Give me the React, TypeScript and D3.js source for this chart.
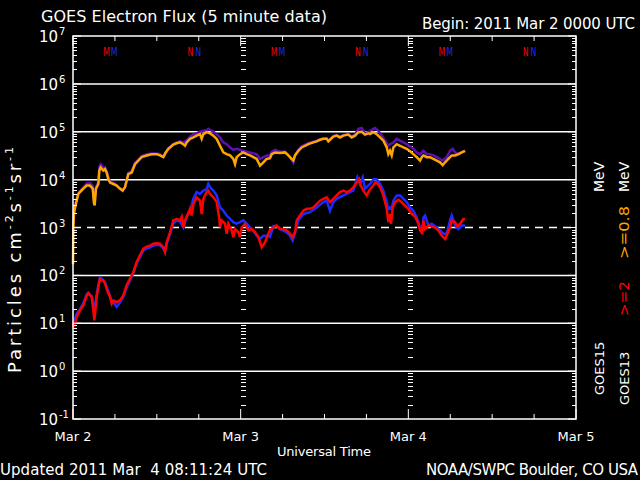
import * as d3 from 'd3';

// hours since 2011 Mar 2 00:00 UT, flux (particles cm-2 s-1 sr-1)
const G13_LOW: [number, number][] = [
  [0, 170], [0.05, 1000], [0.14, 1900], [0.29, 2600], [0.52, 3600], [0.76, 5000], [1.0, 5500],
  [1.48, 6500], [1.96, 7500], [2.43, 7500], [2.82, 6500], [3.0, 3200], [3.1, 2900], [3.29, 6500],
  [3.63, 8100], [3.77, 15500], [3.96, 18000], [4.15, 16600], [4.34, 15500], [4.58, 16600],
  [4.82, 14000], [5.06, 10200], [5.3, 8700], [5.77, 8100], [6.25, 7500], [6.73, 6500], [7.11, 5900],
  [7.44, 6900], [7.68, 9500], [7.92, 13000], [8.4, 14000], [8.87, 21000], [9.35, 25000],
  [9.83, 29500], [10.55, 32000], [11.26, 34000], [11.98, 34000], [12.45, 32000], [12.93, 29500],
  [13.27, 37000], [13.65, 44000], [13.89, 47000], [14.36, 54000], [14.84, 57500], [15.32, 60000],
  [15.79, 55000], [16.03, 51000], [16.27, 60000], [16.75, 71000], [17.23, 76000], [17.7, 83000],
  [18.18, 89000], [18.42, 71000], [18.66, 89000], [19.13, 98000], [19.61, 93000], [20.09, 83000],
  [20.57, 71000], [21.04, 51000], [21.52, 37000], [22.0, 34000], [22.48, 32000], [22.95, 27000],
  [23.19, 21000], [23.43, 29500], [23.91, 34000], [24.38, 37000], [24.86, 34000], [25.34, 32000],
  [25.82, 29500], [26.29, 27000], [26.77, 19500], [27.25, 23000], [27.72, 27000], [28.2, 28000],
  [28.44, 34000], [28.92, 37000], [29.63, 36000], [30.35, 37000], [30.82, 32000], [31.3, 27000],
  [31.54, 25000], [31.78, 32000], [32.26, 40000], [32.73, 47000], [33.21, 51000], [33.69, 55000],
  [34.4, 60000], [34.88, 63000], [35.36, 68000], [35.84, 71000], [36.31, 71000], [36.55, 63000],
  [36.79, 68000], [37.27, 79000], [37.74, 83000], [38.22, 76000], [38.7, 83000], [39.41, 87000],
  [39.89, 76000], [40.37, 83000], [40.85, 98000], [41.32, 100000], [41.8, 87000], [42.28, 93000],
  [42.52, 89000], [43.0, 98000], [43.47, 89000], [43.95, 76000], [44.43, 65000], [44.91, 47000],
  [45.14, 34000], [45.38, 40000], [45.62, 32000], [45.86, 47000], [46.34, 55000], [46.81, 51000],
  [47.29, 47000], [47.77, 44000], [48.25, 39000], [48.72, 34000], [49.2, 29500], [49.68, 25000],
  [49.92, 29500], [50.16, 32000], [50.63, 29500], [51.11, 29500], [51.59, 27000], [52.06, 25000],
  [52.54, 23000], [52.92, 20000], [53.26, 23000], [53.73, 27000], [54.21, 32000], [54.69, 32000],
  [55.17, 34000], [55.64, 37000], [56.12, 40000],
];

const G15_LOW: [number, number][] = [
  [0, 2000], [0.14, 2200], [0.29, 2800], [0.52, 4000], [0.76, 5200], [1.0, 5800], [1.48, 6800],
  [1.96, 8300], [2.43, 8500], [2.82, 7400], [3.0, 4000], [3.1, 3500], [3.29, 6800], [3.63, 8900],
  [3.77, 18000], [3.96, 21000], [4.15, 20000], [4.34, 16600], [4.58, 18000], [4.82, 15000],
  [5.06, 11000], [5.3, 9100], [5.77, 8500], [6.25, 7600], [6.73, 6300], [7.11, 5800], [7.44, 6900],
  [7.68, 10000], [7.92, 13800], [8.4, 14800], [8.87, 22000], [9.35, 26000], [9.83, 31000],
  [10.55, 34000], [11.26, 35000], [11.98, 35000], [12.45, 34000], [12.93, 30000], [13.27, 36000],
  [13.65, 45000], [13.89, 49000], [14.36, 55000], [14.84, 60000], [15.32, 63000], [15.79, 59000],
  [16.27, 66000], [16.75, 79000], [17.23, 89000], [17.7, 93000], [18.18, 100000], [18.66, 105000],
  [19.13, 107000], [19.37, 115000], [19.61, 110000], [20.09, 100000], [20.57, 89000], [21.04, 76000],
  [21.52, 60000], [22.0, 55000], [22.48, 47000], [22.95, 42000], [23.43, 44000], [23.91, 42000],
  [24.38, 40000], [25.34, 37000], [26.29, 34000], [26.77, 27000], [27.25, 29500], [27.72, 32000],
  [28.2, 32000], [28.44, 38000], [28.92, 42000], [29.63, 38000], [30.35, 38000], [30.82, 33000],
  [31.3, 26000], [31.54, 23000], [31.78, 32000], [32.26, 42000], [32.73, 49000], [33.21, 54000],
  [33.69, 57500], [34.4, 62000], [34.88, 65000], [35.36, 69000], [35.84, 72000], [36.31, 72000],
  [36.55, 65000], [36.79, 69000], [37.27, 81000], [37.74, 85000], [38.22, 79000], [38.7, 85000],
  [39.41, 89000], [39.89, 79000], [40.37, 87000], [40.85, 115000], [41.32, 120000], [41.8, 93000],
  [42.28, 98000], [42.52, 105000], [43.0, 115000], [43.24, 120000], [43.71, 105000], [44.19, 83000],
  [44.67, 65000], [45.14, 51000], [45.38, 55000], [45.86, 60000], [46.34, 71000], [46.81, 65000],
  [47.29, 60000], [47.77, 55000], [48.25, 49000], [48.72, 44000], [49.2, 37000], [49.68, 34000],
  [50.16, 40000], [50.63, 34000], [51.11, 34000], [51.59, 32000], [52.06, 29500], [52.54, 27000],
  [52.92, 25000], [53.5, 29500], [53.97, 40000], [54.35, 44000], [54.69, 37000], [55.17, 34000],
  [55.64, 37000], [56.12, 40000],
];

const G13_HIGH: [number, number][] = [
  [0, 10], [0.05, 8.3], [0.29, 10], [0.52, 13.5], [1.0, 18.6], [1.48, 23.7], [1.96, 38], [2.19, 42],
  [2.43, 38], [2.67, 35.5], [2.91, 18.6], [3.05, 11.5], [3.2, 18.6], [3.39, 35.5], [3.63, 57.5],
  [3.86, 85], [4.1, 79], [4.34, 79], [4.58, 68], [4.82, 52.5], [5.06, 42], [5.3, 35.5], [5.54, 25.7],
  [5.77, 30], [6.25, 27.5], [6.73, 30], [7.2, 38], [7.68, 62], [8.16, 85], [8.64, 117], [9.11, 190],
  [9.59, 263], [10.07, 363], [10.55, 398], [11.02, 417], [11.5, 457], [11.98, 468], [12.45, 457],
  [12.93, 389], [13.17, 309], [13.41, 490], [13.89, 794], [14.36, 1410], [14.84, 1510],
  [15.32, 1410], [15.56, 1660], [15.79, 1000], [16.03, 1410], [16.27, 1660], [16.75, 2450],
  [16.99, 1780], [17.23, 3090], [17.7, 4270], [18.18, 3630], [18.42, 1910], [18.66, 3980],
  [19.13, 5500], [19.37, 5890], [19.61, 5010], [20.09, 4270], [20.57, 3390], [20.95, 1510],
  [21.04, 1000], [21.28, 1410], [21.76, 1200], [22.0, 741], [22.24, 1200], [22.71, 871], [22.95, 631],
  [23.19, 933], [23.67, 794], [23.91, 631], [24.14, 1000], [24.62, 1200], [25.1, 871], [25.58, 933],
  [26.05, 794], [26.53, 631], [27.01, 389], [27.48, 490], [28.2, 891], [28.68, 1000], [29.15, 1100],
  [29.63, 933], [30.11, 933], [30.59, 871], [31.06, 741], [31.44, 631], [31.78, 794], [32.02, 1410],
  [32.49, 1780], [32.97, 2240], [33.45, 2450], [33.93, 2450], [34.4, 2630], [34.88, 3090],
  [35.36, 3630], [35.84, 3980], [36.31, 4270], [36.79, 3390], [37.27, 3980], [37.74, 4680],
  [38.22, 5500], [38.7, 5890], [39.18, 5500], [39.65, 5890], [40.13, 6920], [40.61, 8710],
  [40.94, 10200], [41.18, 7590], [41.56, 5890], [42.04, 4680], [42.52, 6310], [43.0, 7590],
  [43.24, 8710], [43.47, 8710], [43.95, 6920], [44.43, 4680], [44.91, 2450], [45.14, 1290],
  [45.29, 1910], [45.53, 1200], [45.77, 2630], [46.1, 3390], [46.58, 3800], [47.05, 3390],
  [47.53, 2880], [48.01, 2450], [48.49, 1910], [48.96, 1700], [49.44, 1200], [49.68, 871],
  [49.92, 794], [50.16, 1410], [50.39, 933], [50.87, 1100], [51.35, 1050], [51.83, 1000], [52.3, 871],
  [52.78, 676], [53.26, 575], [53.59, 741], [53.97, 1000], [54.21, 1410], [54.69, 1290], [55.02, 1050],
  [55.41, 1200], [55.88, 1510], [56.12, 1510],
];

const G15_HIGH: [number, number][] = [
  [0, 10.5], [0.29, 12.6], [0.52, 15.8], [1.0, 20], [1.48, 26.3], [1.96, 40], [2.19, 43.7], [2.43, 40],
  [2.67, 37], [2.91, 25], [3.05, 20], [3.2, 25], [3.39, 40], [3.63, 63], [3.86, 89], [4.1, 85],
  [4.34, 79], [4.58, 72], [4.82, 57.5], [5.06, 46], [5.3, 37], [5.54, 28], [5.77, 27.5], [6.25, 21.9],
  [6.73, 27], [7.2, 35.5], [7.68, 56], [8.16, 79], [8.64, 112], [9.11, 178], [9.59, 240], [10.07, 331],
  [10.55, 363], [11.02, 380], [11.5, 417], [11.98, 437], [12.45, 427], [12.93, 363], [13.17, 316],
  [13.41, 457], [13.89, 741], [14.36, 1200], [14.84, 1410], [15.32, 1320], [15.79, 1000],
  [16.27, 1660], [16.75, 2240], [17.23, 3980], [17.7, 5500], [18.18, 5010], [18.66, 5890],
  [19.13, 6310], [19.37, 8130], [19.61, 6920], [20.09, 5890], [20.57, 4680], [21.04, 2630],
  [21.52, 2240], [22.0, 1780], [22.48, 1510], [22.95, 1290], [23.43, 1200], [23.91, 1290],
  [24.38, 1410], [24.86, 1200], [25.34, 1000], [25.82, 871], [26.29, 676], [26.77, 575], [27.25, 676],
  [27.72, 676], [28.2, 631], [28.68, 1070], [29.15, 1070], [29.63, 933], [30.59, 794], [31.06, 676],
  [31.44, 537], [31.78, 794], [32.26, 1410], [32.97, 1910], [33.93, 2090], [34.88, 2630],
  [35.84, 3390], [36.31, 3630], [36.79, 2240], [37.27, 3390], [37.74, 3980], [38.7, 4680],
  [39.18, 5010], [39.65, 5500], [40.13, 5890], [40.7, 11200], [41.08, 8130], [41.47, 11200],
  [41.8, 6460], [42.28, 7590], [42.52, 8130], [43.0, 10200], [43.47, 10200], [43.95, 8130],
  [44.43, 5890], [44.91, 3390], [45.14, 2450], [45.38, 2630], [45.62, 2450], [45.86, 3630],
  [46.34, 4680], [46.81, 4680], [47.29, 3980], [47.77, 3390], [48.25, 2630], [48.72, 2240],
  [49.2, 1620], [49.68, 1000], [50.01, 724], [50.16, 1620], [50.39, 1780], [50.87, 1100],
  [51.35, 1200], [52.06, 1000], [52.54, 871], [53.02, 741], [53.5, 741], [53.97, 1410], [54.21, 1780],
  [54.69, 1100], [55.17, 933], [55.64, 1100], [56.12, 1100],
];

// local midnight (M) / noon (N) in hours UT
const G13_MIDNIGHT = [4.8, 28.8, 52.8];
const G13_NOON = [16.8, 40.8, 64.8];
const G15_MIDNIGHT = [5.9, 29.9, 53.9];
const G15_NOON = [17.9, 41.9, 65.9];

const DAY_LABELS = ['Mar 2', 'Mar 3', 'Mar 4', 'Mar 5'];
const DECADES = [-1, 0, 1, 2, 3, 4, 5, 6, 7];
const FONT = 'DejaVu Sans, sans-serif';

const W = 640;
const H = 480;
const PLOT = { left: 73, right: 576, top: 36, bottom: 419 };
const RED = '#ff0000';
const BLUE = '#1a2cff';

export default function App() {
  const x = d3.scaleLinear().domain([0, 72]).range([PLOT.left, PLOT.right]);
  const y = d3.scaleLog().domain([0.1, 1e7]).range([PLOT.bottom, PLOT.top]);

  const line = d3.line<[number, number]>()
    .x(d => x(d[0]))
    .y(d => y(d[1]));

  const minors: number[] = [];
  DECADES.slice(0, -1).forEach(e => {
    for (let k = 2; k <= 9; k++) minors.push(k * Math.pow(10, e));
  });
  const hourTicks = d3.range(0, 73, 6);
  const dayLines = [24, 48];

  const series = [
    { data: G15_LOW, colour: '#5c10b4' },
    { data: G13_LOW, colour: '#ffa500' },
    { data: G15_HIGH, colour: BLUE },
    { data: G13_HIGH, colour: RED },
  ];

  const markers = [
    ...G13_MIDNIGHT.map(h => ({ h, ch: 'M', c: RED })),
    ...G15_MIDNIGHT.map(h => ({ h, ch: 'M', c: BLUE })),
    ...G13_NOON.map(h => ({ h, ch: 'N', c: RED })),
    ...G15_NOON.map(h => ({ h, ch: 'N', c: BLUE })),
  ];

  return (
    <svg width={W} height={H} style={{ position: 'absolute', left: 0, top: 0, background: '#000' }}
      fontFamily={FONT}>
      <rect x={0} y={0} width={W} height={H} fill="#000" />

      {/* grid lines at decades */}
      {DECADES.filter(e => e > -1 && e < 7).map(e => (
        <line key={'g' + e} x1={PLOT.left} x2={PLOT.right} y1={y(Math.pow(10, e))} y2={y(Math.pow(10, e))}
          stroke="#fff" strokeWidth={1.5} strokeDasharray={e === 3 ? '8,6' : undefined} />
      ))}

      {/* day boundary ladders */}
      {dayLines.map(h => minors.map(v => (
        <line key={`d${h}-${v}`} x1={Math.round(x(h))} x2={Math.round(x(h)) + 5} y1={Math.round(y(v)) + 0.5}
          y2={Math.round(y(v)) + 0.5} stroke="#fff" strokeWidth={1} />
      )))}

      {/* data */}
      {series.map((s, i) => (
        <path key={i} d={line(s.data) ?? ''} fill="none" stroke={s.colour} strokeWidth={2.5}
          strokeLinejoin="miter" />
      ))}

      {/* frame */}
      <rect x={PLOT.left} y={PLOT.top} width={PLOT.right - PLOT.left} height={PLOT.bottom - PLOT.top}
        fill="none" stroke="#fff" strokeWidth={1.5} />

      {/* y ticks left and right */}
      {DECADES.map(e => {
        const yy = y(Math.pow(10, e));
        return (
          <g key={'yt' + e}>
            <line x1={PLOT.left} x2={PLOT.left + 8} y1={yy} y2={yy} stroke="#fff" />
            <line x1={PLOT.right} x2={PLOT.right - 8} y1={yy} y2={yy} stroke="#fff" />
            <text x={58} y={yy + 6} textAnchor="end" fill="#fff" fontSize={15}>10</text>
            <text x={59} y={yy - 1} fill="#fff" fontSize={10}>{e}</text>
          </g>
        );
      })}
      {minors.map(v => (
        <g key={'ym' + v}>
          <line x1={PLOT.left} x2={PLOT.left + 4} y1={Math.round(y(v)) + 0.5} y2={Math.round(y(v)) + 0.5} stroke="#fff" />
          <line x1={PLOT.right} x2={PLOT.right - 4} y1={Math.round(y(v)) + 0.5} y2={Math.round(y(v)) + 0.5} stroke="#fff" />
        </g>
      ))}

      {/* x ticks top and bottom */}
      {hourTicks.map(h => {
        const len = h % 24 === 0 ? 10 : 5;
        return (
          <g key={'xt' + h}>
            <line x1={x(h)} x2={x(h)} y1={PLOT.top} y2={PLOT.top + len} stroke="#fff" />
            <line x1={x(h)} x2={x(h)} y1={PLOT.bottom} y2={PLOT.bottom - len} stroke="#fff" />
          </g>
        );
      })}

      {/* midnight / noon markers, narrowed so the red and blue letters sit side by side */}
      {markers.map(m => (
        <text key={m.ch + m.c + m.h} transform={`translate(${x(m.h)},56) scale(0.6,1)`}
          textAnchor="middle" fill={m.c} fontSize={13}>{m.ch}</text>
      ))}

      {/* day labels */}
      {DAY_LABELS.map((d, i) => (
        <text key={d} x={x(i * 24)} y={441} textAnchor="middle" fill="#fff" fontSize={13}>{d}</text>
      ))}
      <text x={324} y={456} textAnchor="middle" fill="#fff" fontSize={13} textLength={94}>Universal Time</text>

      {/* titles */}
      <text x={41} y={21.5} fill="#fff" fontSize={16} textLength={286}>GOES Electron Flux (5 minute data)</text>
      <text x={422} y={29} fill="#fff" fontSize={15} textLength={213}>Begin: 2011 Mar 2 0000 UTC</text>
      <text x={0} y={475} fill="#fff" fontSize={15} textLength={267} style={{ whiteSpace: 'pre' }}>Updated 2011 Mar  4 08:11:24 UTC</text>
      <text x={638} y={475} textAnchor="end" fill="#fff" fontSize={15} textLength={212}>NOAA/SWPC Boulder, CO USA</text>

      {/* y axis label */}
      <text transform="translate(21,260) rotate(-90)" textAnchor="middle" fill="#fff" fontSize={18} textLength={226}>
        Particles cm<tspan fontSize={11} dy={-8}>-2</tspan><tspan dy={8}>s</tspan><tspan fontSize={11} dy={-8}>-1</tspan><tspan dy={8}>sr</tspan><tspan fontSize={11} dy={-8}>-1</tspan>
      </text>

      {/* right legend */}
      <text transform="translate(604,395) rotate(-90)" fill="#fff" fontSize={13}>GOES15</text>
      <text transform="translate(604,192) rotate(-90)" fill="#fff" fontSize={14}>MeV</text>
      <text transform="translate(629,405) rotate(-90)" fill="#fff" fontSize={13}>GOES13</text>
      <text transform="translate(629,316) rotate(-90)" fill={RED} fontSize={14} textLength={35} lengthAdjust="spacingAndGlyphs">&gt;=2</text>
      <text transform="translate(629,259) rotate(-90)" fill="#ffa500" fontSize={14} textLength={53} lengthAdjust="spacingAndGlyphs">&gt;=0.8</text>
      <text transform="translate(629,192) rotate(-90)" fill="#fff" fontSize={14}>MeV</text>
    </svg>
  );
}
